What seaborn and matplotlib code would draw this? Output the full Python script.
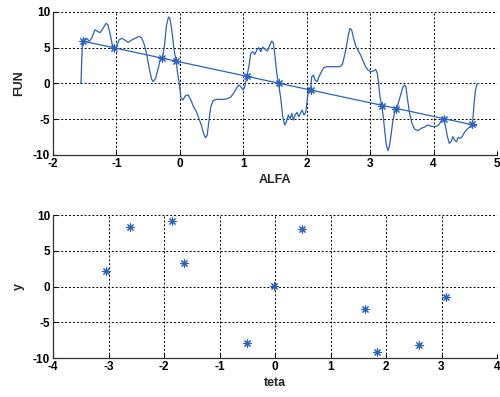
import numpy as np
import pandas as pd
import matplotlib
matplotlib.use("Agg")
import matplotlib.pyplot as plt
import seaborn as sns

# ---- top panel: wiggly curve FUN(ALFA) ----
alfa = [-1.571, -1.559, -1.538, -1.512, -1.470, -1.428, -1.386, -1.339, -1.302, -1.260, -1.218,
        -1.165, -1.134, -1.102, -1.066, -1.029, -0.997, -0.961, -0.919, -0.866, -0.814,
        -0.761, -0.709, -0.640, -0.604, -0.567, -0.525, -0.483, -0.446, -0.420, -0.383,
        -0.341, -0.304, -0.273, -0.241, -0.210, -0.178, -0.157, -0.131, -0.094, -0.063,
        -0.031, -0.005, 0.016, 0.047, 0.089, 0.131, 0.173, 0.215, 0.257, 0.299, 0.341,
        0.373, 0.404, 0.430, 0.457, 0.488, 0.525, 0.577, 0.656, 0.735, 0.803, 0.856,
        0.898, 0.929, 0.961, 0.997, 1.024, 1.055, 1.087, 1.118, 1.150, 1.181, 1.213,
        1.244, 1.276, 1.307, 1.339, 1.381, 1.417, 1.449, 1.475, 1.501, 1.528, 1.559,
        1.591, 1.622, 1.653, 1.680, 1.711, 1.738, 1.764, 1.790, 1.816, 1.848, 1.874,
        1.900, 1.927, 1.958, 1.984, 2.005, 2.032, 2.058, 2.079, 2.105, 2.131, 2.163,
        2.194, 2.231, 2.268, 2.310, 2.415, 2.520, 2.562, 2.598, 2.630, 2.656, 2.682,
        2.709, 2.740, 2.777, 2.814, 2.850, 2.887, 2.929, 2.966, 3.008, 3.050, 3.087,
        3.113, 3.134, 3.155, 3.181, 3.207, 3.234, 3.255, 3.281, 3.307, 3.333, 3.360,
        3.386, 3.412, 3.438, 3.465, 3.491, 3.517, 3.543, 3.564, 3.591, 3.622, 3.659,
        3.701, 3.753, 3.806, 3.858, 3.911, 3.963, 4.016, 4.068, 4.105, 4.136, 4.163,
        4.189, 4.215, 4.247, 4.278, 4.304, 4.331, 4.362, 4.388, 4.420, 4.451, 4.488,
        4.530, 4.572, 4.604, 4.619, 4.635, 4.656, 4.677, 4.712]
fun = [0.0, 0.0, 5.36, 6.15, 6.3, 5.9, 6.4, 7.5, 7.3, 7.1, 7.6,
       8.4, 8.2, 7.0, 5.45, 4.9, 5.1, 6.06, 6.3, 6.06, 5.73,
       6.06, 6.3, 6.57, 6.4, 5.6, 4.2, 2.1, 0.6, 0.23, 0.7,
       2.1, 3.5, 3.6, 5.4, 8.2, 9.3, 9.1, 7.7, 4.9, 3.3,
       1.2, -0.23, -2.0, -2.33, -1.72, -1.63, -2.33, -3.26, -3.87, -4.9, -5.9,
       -7.0, -7.6, -7.3, -5.36, -3.26, -2.42, -2.24, -2.24, -2.19, -1.91, -1.26,
       -0.6, -0.23, -0.47, -0.93, -0.47, 0.93, 2.33, 4.2, 4.43, 4.06, 4.66,
       4.99, 4.43, 5.08, 4.8, 4.52, 5.36, 5.92, 5.6, 3.73, 1.4, -0.23,
       -2.1, -4.66, -5.83, -5.36, -4.43, -4.99, -4.2, -5.13, -4.43, -4.06, -4.66,
       -4.2, -3.73, -4.43, -4.06, -2.56, -0.7, -1.17, 0.93, 1.17, 0.47, 0.23,
       0.93, 1.63, 2.19, 2.33, 2.33, 2.33, 2.66, 3.96, 5.36, 6.76, 7.69,
       7.46, 6.29, 5.13, 4.57, 3.96, 3.17, 2.33, 1.86, 1.63, 1.72, 1.96,
       1.4, 0.0, -1.86, -3.03, -4.66, -6.99, -8.62, -9.42, -8.62, -6.99, -5.13,
       -4.06, -3.59, -2.94, -2.1, -1.26, -0.51, -0.23, -0.47, -2.33, -4.2, -5.59,
       -6.39, -6.62, -6.29, -6.11, -5.83, -6.01, -6.06, -5.92, -5.5, -4.99, -5.13,
       -6.06, -7.32, -8.39, -8.16, -7.46, -7.93, -8.16, -7.55, -7.69, -7.46, -6.85,
       -6.39, -6.11, -6.06, -5.13, -3.26, -1.26, -0.23, 0.0]

# straight line with star markers
star_x = [-1.52, -1.04, -0.28, -0.06, 1.06, 1.56, 2.06, 3.19, 3.41, 4.16, 4.61]
star_y = [5.88, 5.0, 3.52, 3.12, 1.0, 0.03, -0.92, -3.12, -3.54, -4.92, -5.75]
line_x = [-1.55, 4.68]
line_y = [5.95, -5.92]

# ---- bottom panel: scatter y(teta) ----
teta = [-3.045, -2.607, -1.862, -1.64, -0.505, -0.018, 0.48, 1.62, 1.84, 2.59, 3.075]
yv = [2.2, 8.32, 9.2, 3.33, -7.86, 0.07, 8.04, -3.19, -9.1, -8.18, -1.52]

xticks_top = [-2, -1, 0, 1, 2, 3, 4, 5]
xticks_bot = [-4, -3, -2, -1, 0, 1, 2, 3, 4]
yticks = [-10, -5, 0, 5, 10]

sns.set_theme(style="white")
plt.rcParams['font.family'] = ['Liberation Sans', 'DejaVu Sans']

BLUE = '#2a62c0'
fig = plt.figure(figsize=(5.0, 3.97), dpi=100)
ax1 = fig.add_axes([0.106, 0.610, 0.888, 0.360])
ax2 = fig.add_axes([0.106, 0.098, 0.888, 0.360])

df_curve = pd.DataFrame({'ALFA': alfa, 'FUN': fun})
sns.lineplot(data=df_curve, x='ALFA', y='FUN', sort=False, ax=ax1, color=BLUE, lw=0.9)
sns.lineplot(x=line_x, y=line_y, sort=False, ax=ax1, color=BLUE, lw=0.9)
sns.scatterplot(x=star_x, y=star_y, ax=ax1, marker=(8, 2, 0), s=28, color=BLUE,
                linewidth=0.8, edgecolor=BLUE)

sns.scatterplot(x=teta, y=yv, ax=ax2, marker=(8, 2, 0), s=28, color=BLUE,
                linewidth=0.8, edgecolor=BLUE)

def style(ax, xt, xlabel, ylabel):
    ax.set_xlim(xt[0], xt[-1])
    ax.set_ylim(-10, 10)
    ax.set_xticks(xt)
    ax.set_yticks(yticks)
    ax.set_xticklabels([str(v) for v in xt], fontweight='bold', fontsize=8.5)
    ax.set_yticklabels([str(v) for v in yticks], fontweight='bold', fontsize=8.5)
    ax.grid(True, color='black', linestyle=(0, (2, 2)), linewidth=0.7)
    for s in ['top', 'right']:
        ax.spines[s].set_visible(False)
    for s in ['left', 'bottom']:
        ax.spines[s].set_color('#333333')
        ax.spines[s].set_linewidth(0.9)
    ax.tick_params(direction='in', length=3, width=0.8, pad=2, colors='black',
                   left=True, bottom=True)
    ax.set_xlabel(xlabel, fontweight='bold', fontsize=9, labelpad=3)
    ax.set_ylabel(ylabel, fontweight='bold', fontsize=9, labelpad=6)

style(ax1, xticks_top, 'ALFA', 'FUN')
style(ax2, xticks_bot, 'teta', 'y')

fig.savefig('out.png', dpi=100)
